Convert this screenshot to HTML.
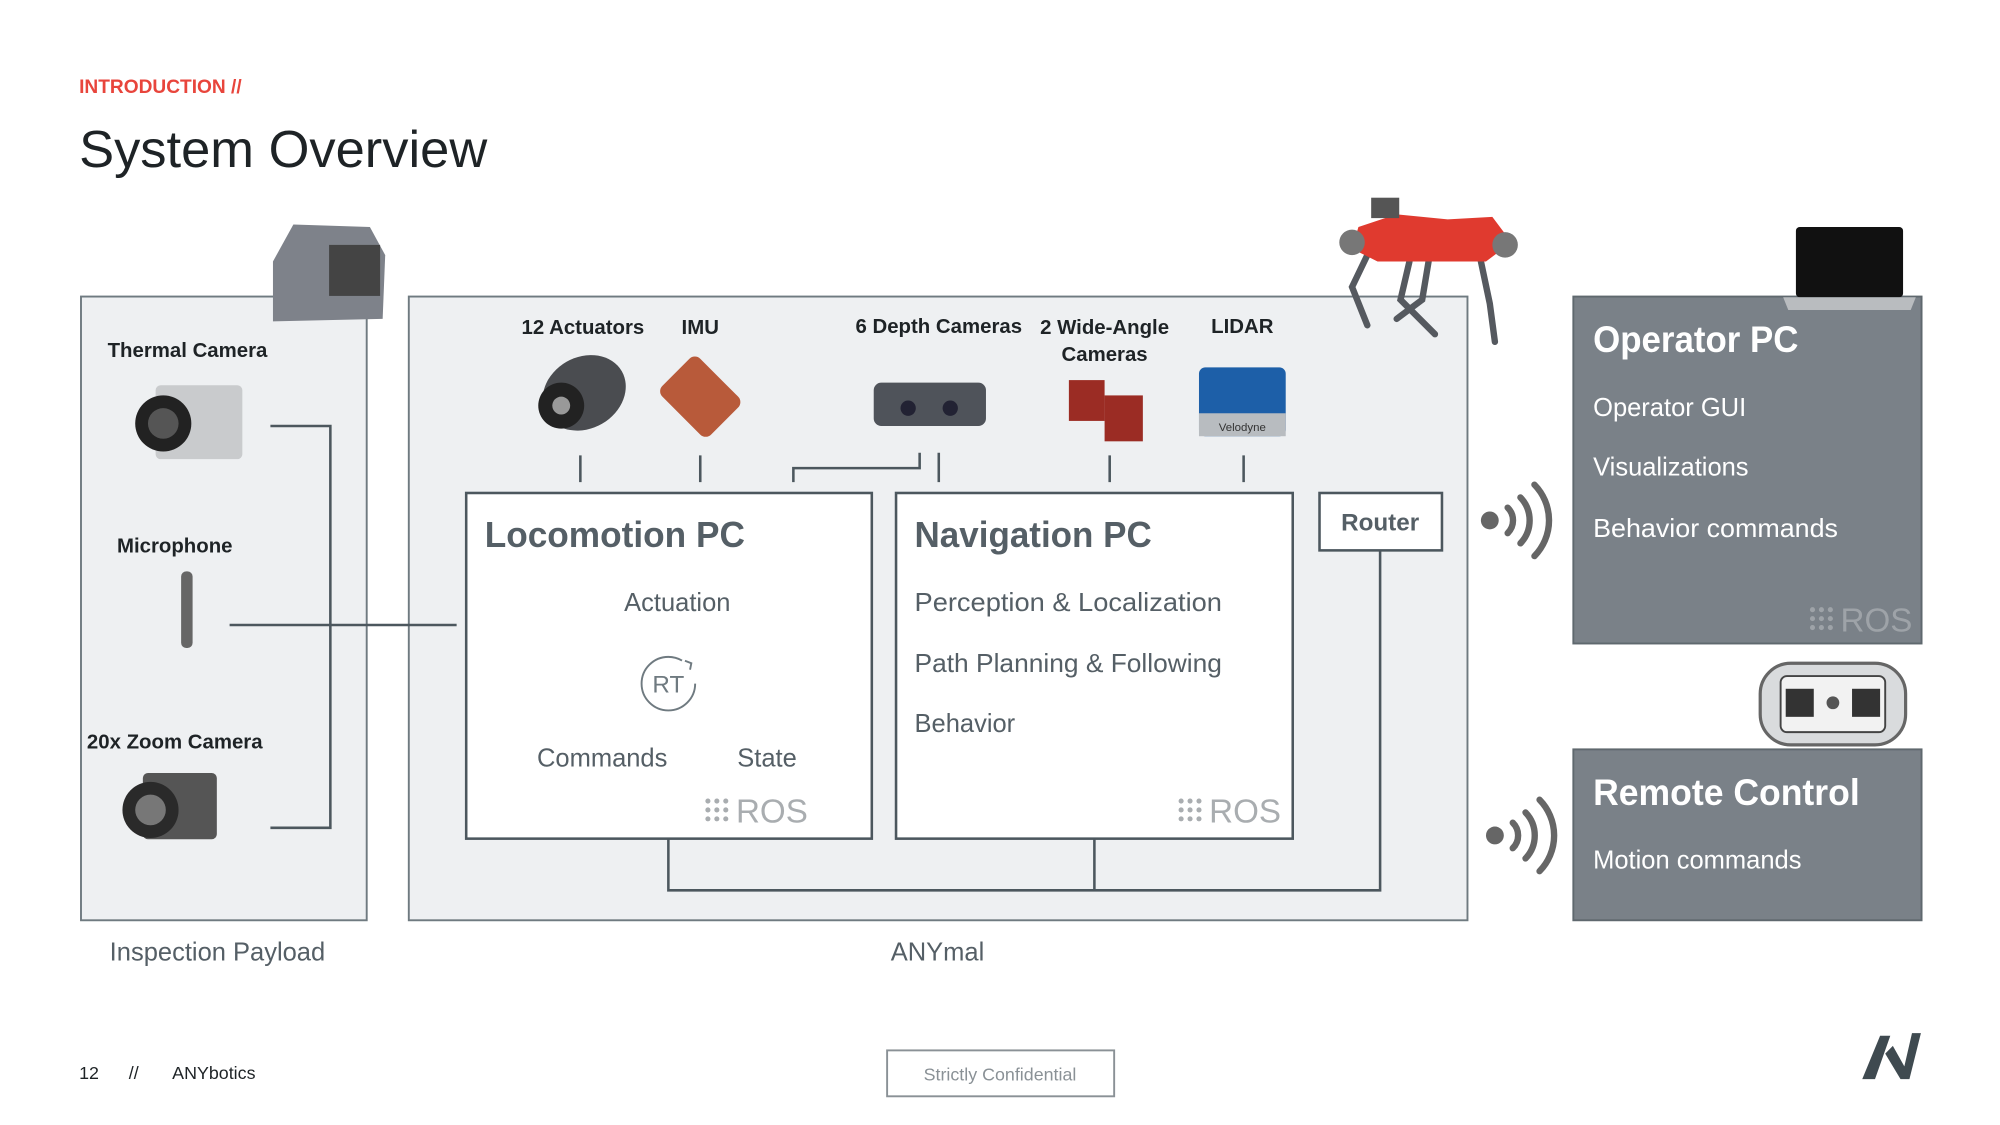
<!DOCTYPE html>
<html><head><meta charset="utf-8"><style>
html,body{margin:0;padding:0;background:#fff;}
svg{display:block;}
text{font-family:"Liberation Sans",sans-serif;}
</style></head><body>
<svg width="2000" height="1125" viewBox="0 0 1568 882" xmlns="http://www.w3.org/2000/svg">
<defs>
<g id="dots"><circle cx="0" cy="0" r="2"/><circle cx="7" cy="0" r="2"/><circle cx="14" cy="0" r="2"/><circle cx="0" cy="7" r="2"/><circle cx="7" cy="7" r="2"/><circle cx="14" cy="7" r="2"/><circle cx="0" cy="14" r="2"/><circle cx="7" cy="14" r="2"/><circle cx="14" cy="14" r="2"/></g>
</defs>
<rect width="1568" height="882" fill="#fff"/>
<text x="62" y="73" font-size="15" font-weight="bold" fill="#e8453c">INTRODUCTION //</text>
<text x="62" y="131" font-size="41" fill="#1e2326" textLength="320" lengthAdjust="spacingAndGlyphs">System Overview</text>

<!-- panels -->
<rect x="63.5" y="232.5" width="224" height="489" fill="#eef0f2" stroke="#6f7a80" stroke-width="1.5"/>
<rect x="320.5" y="232.5" width="830" height="489" fill="#eef0f2" stroke="#6f7a80" stroke-width="1.5"/>

<!-- connectors -->
<g stroke="#4c575e" stroke-width="2" fill="none">
<path d="M212 334H259V649H212"/>
<path d="M180 490H358"/>
<path d="M455 357V378M549 357V378M622 378V367H721V355M736 355V378M870 357V378M975 357V378"/>
<path d="M524 658V698H1082V431M858 658V698"/>
</g>

<!-- PC boxes -->
<rect x="365.5" y="386.5" width="318" height="271" fill="#fff" stroke="#4c575e" stroke-width="2"/>
<rect x="702.5" y="386.5" width="311" height="271" fill="#fff" stroke="#4c575e" stroke-width="2"/>
<rect x="1034.5" y="386.5" width="96" height="45" fill="#fff" stroke="#4c575e" stroke-width="2"/>
<text x="1082" y="416" font-size="19" font-weight="bold" fill="#555f66" text-anchor="middle">Router</text>

<text x="380" y="429" font-size="28" font-weight="bold" fill="#555f66" textLength="204" lengthAdjust="spacingAndGlyphs">Locomotion PC</text>
<text x="531" y="479" font-size="20" fill="#555f66" text-anchor="middle">Actuation</text>
<circle cx="524" cy="536" r="21" fill="none" stroke="#6f7a80" stroke-width="1.5" stroke-dasharray="110 22"/>
<path d="M537 518l5 2-1 5" fill="none" stroke="#6f7a80" stroke-width="1.5"/>
<text x="524" y="543" font-size="19" fill="#6f7a80" text-anchor="middle">RT</text>
<text x="421" y="601" font-size="20" fill="#555f66">Commands</text>
<text x="578" y="601" font-size="20" fill="#555f66">State</text>

<text x="717" y="429" font-size="28" font-weight="bold" fill="#555f66" textLength="186" lengthAdjust="spacingAndGlyphs">Navigation PC</text>
<text x="717" y="479" font-size="20" fill="#555f66" textLength="241" lengthAdjust="spacingAndGlyphs">Perception &amp; Localization</text>
<text x="717" y="527" font-size="20" fill="#555f66" textLength="241" lengthAdjust="spacingAndGlyphs">Path Planning &amp; Following</text>
<text x="717" y="574" font-size="20" fill="#555f66">Behavior</text>

<!-- ROS logos -->
<g fill="#a9adb0" transform="translate(555,628)"><use href="#dots"/></g>
<text x="577" y="645" font-size="26" fill="#a9adb0">ROS</text>
<g fill="#a9adb0" transform="translate(926,628)"><use href="#dots"/></g>
<text x="948" y="645" font-size="26" fill="#a9adb0">ROS</text>

<!-- Operator PC -->
<rect x="1233.5" y="232.5" width="273" height="272" fill="#7a8188" stroke="#5f686e" stroke-width="1.5"/>
<text x="1249" y="276" font-size="29" font-weight="bold" fill="#fff" textLength="161" lengthAdjust="spacingAndGlyphs">Operator PC</text>
<text x="1249" y="326" font-size="20" fill="#fff">Operator GUI</text>
<text x="1249" y="373" font-size="20" fill="#fff">Visualizations</text>
<text x="1249" y="421" font-size="20" fill="#fff" textLength="192" lengthAdjust="spacingAndGlyphs">Behavior commands</text>
<g fill="#9ea3a8" transform="translate(1421,478)"><use href="#dots"/></g>
<text x="1443" y="495" font-size="26" fill="#9ea3a8">ROS</text>
<!-- laptop -->
<rect x="1408" y="178" width="84" height="55" rx="3" fill="#111"/>
<path d="M1398 233H1502L1498 243H1402Z" fill="#b9bcbf"/>

<!-- Remote control -->
<rect x="1233.5" y="587.5" width="273" height="134" fill="#7a8188" stroke="#5f686e" stroke-width="1.5"/>
<text x="1249" y="631" font-size="29" font-weight="bold" fill="#fff" textLength="209" lengthAdjust="spacingAndGlyphs">Remote Control</text>
<text x="1249" y="681" font-size="20" fill="#fff">Motion commands</text>
<rect x="1380" y="520" width="114" height="64" rx="24" fill="#d9dbdd" stroke="#666" stroke-width="2.5"/>
<rect x="1396" y="530" width="82" height="44" rx="5" fill="#f2f2f2" stroke="#444" stroke-width="1.5"/>
<rect x="1400" y="540" width="22" height="22" fill="#333"/><rect x="1452" y="540" width="22" height="22" fill="#333"/>
<circle cx="1437" cy="551" r="5" fill="#555"/>

<!-- wifi icons -->
<g fill="none" stroke="#666" stroke-width="5" stroke-linecap="round">
<circle cx="1168" cy="408" r="7" fill="#666" stroke="none"/>
<path d="M1182 398a14 14 0 0 1 0 20M1192 390a26 26 0 0 1 0 36M1203 380a40 40 0 0 1 0 56"/>
<circle cx="1172" cy="655" r="7" fill="#666" stroke="none"/>
<path d="M1186 645a14 14 0 0 1 0 20M1196 637a26 26 0 0 1 0 36M1207 627a40 40 0 0 1 0 56"/>
</g>

<!-- sensor labels -->
<g font-size="16" fill="#1e2326" font-weight="bold">
<text x="147" y="280" text-anchor="middle">Thermal Camera</text>
<text x="137" y="433" text-anchor="middle">Microphone</text>
<text x="137" y="587" text-anchor="middle">20x Zoom Camera</text>
<text x="457" y="262" text-anchor="middle">12 Actuators</text>
<text x="549" y="262" text-anchor="middle">IMU</text>
<text x="736" y="261" text-anchor="middle">6 Depth Cameras</text>
<text x="866" y="262" text-anchor="middle">2 Wide-Angle</text>
<text x="866" y="283" text-anchor="middle">Cameras</text>
<text x="974" y="261" text-anchor="middle">LIDAR</text>
</g>

<!-- device images (simplified) -->
<rect x="122" y="302" width="68" height="58" rx="4" fill="#c9cbcd"/>
<circle cx="128" cy="332" r="22" fill="#222"/><circle cx="128" cy="332" r="12" fill="#555"/>
<rect x="142" y="448" width="9" height="60" rx="4" fill="#666"/>
<rect x="112" y="606" width="58" height="52" rx="4" fill="#555"/>
<circle cx="118" cy="635" r="22" fill="#2a2a2a"/><circle cx="118" cy="635" r="12" fill="#777"/>
<path d="M230 176L290 178L302 200L300 250L214 252L214 205Z" fill="#7e828a"/>
<rect x="258" y="192" width="40" height="40" fill="#444"/>
<ellipse cx="458" cy="308" rx="34" ry="28" fill="#4a4c50" transform="rotate(-30 458 308)"/>
<circle cx="440" cy="318" r="18" fill="#222"/><circle cx="440" cy="318" r="7" fill="#999"/>
<rect x="522" y="290" width="54" height="42" rx="6" fill="#b85a3a" transform="rotate(45 549 311)"/>
<rect x="685" y="300" width="88" height="34" rx="6" fill="#4f535a"/>
<circle cx="712" cy="320" r="6" fill="#223"/><circle cx="745" cy="320" r="6" fill="#223"/>
<rect x="838" y="298" width="28" height="32" fill="#9b2c24"/><rect x="866" y="310" width="30" height="36" fill="#9b2c24"/>
<rect x="940" y="288" width="68" height="54" rx="5" fill="#1d5fa8"/>
<rect x="940" y="324" width="68" height="18" fill="#b8bcc0"/>
<text x="974" y="338" font-size="9" fill="#333" text-anchor="middle">Velodyne</text>
<!-- robot -->
<g stroke="#55595f" stroke-width="5" stroke-linecap="round" fill="none">
<path d="M1072 200L1060 225L1072 255"/>
<path d="M1105 205L1098 235L1125 262"/>
<path d="M1120 205L1115 235L1095 250"/>
<path d="M1160 200L1168 238L1172 268"/>
</g>
<path d="M1065 178L1095 168L1135 172L1170 170L1185 190L1165 205L1120 205L1080 205L1060 195Z" fill="#e03a2f"/>
<rect x="1075" y="155" width="22" height="16" fill="#555"/>
<circle cx="1060" cy="190" r="10" fill="#777"/><circle cx="1180" cy="192" r="10" fill="#777"/>

<text x="86" y="753" font-size="20" fill="#555f66">Inspection Payload</text>
<text x="735" y="753" font-size="20" fill="#555f66" text-anchor="middle">ANYmal</text>

<text x="62" y="846" font-size="14" fill="#1e2326">12</text>
<text x="101" y="846" font-size="14" fill="#1e2326">//</text>
<text x="135" y="846" font-size="14" fill="#1e2326">ANYbotics</text>
<rect x="695.5" y="823.5" width="178" height="36" fill="#fff" stroke="#8a9196" stroke-width="1.5"/>
<text x="784" y="847" font-size="14" fill="#8a9196" text-anchor="middle">Strictly Confidential</text>
<path d="M1460 846L1474 812H1482L1470 846ZM1478 826L1490 846H1497L1506 810H1499L1493 836L1484 820Z" fill="#3f4a50"/>
</svg>
</body></html>
